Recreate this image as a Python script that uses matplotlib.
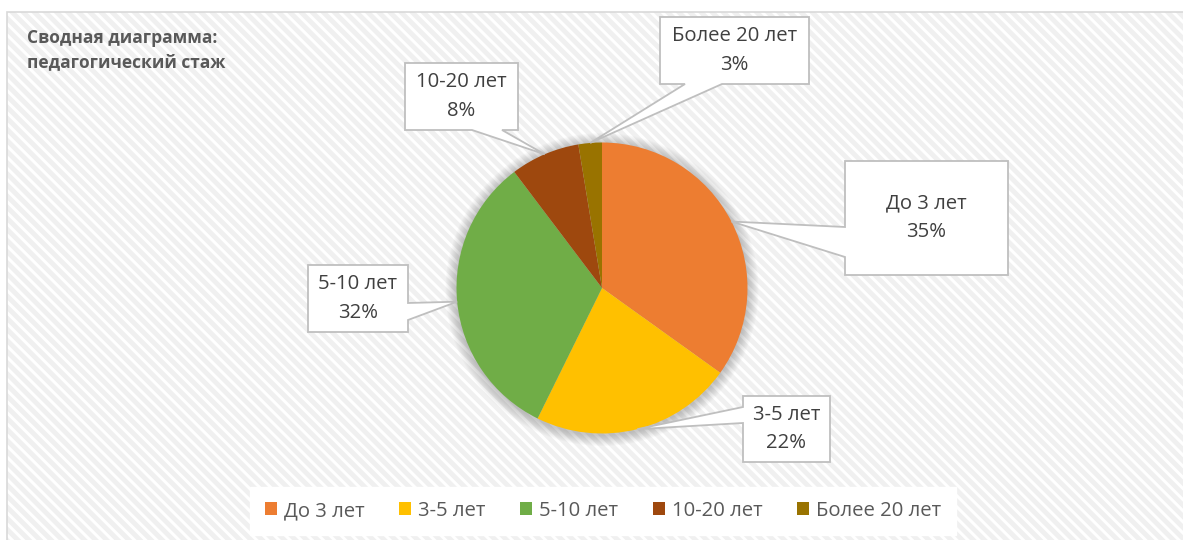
import numpy as np
import matplotlib.pyplot as plt
from matplotlib.patches import Rectangle, Circle, Polygon

plt.rcParams['font.family'] = ['Open Sans', 'DejaVu Sans']
plt.rcParams['hatch.linewidth'] = 3.5

# данные
categories = ['До 3 лет', '3-5 лет', '5-10 лет', '10-20 лет', 'Более 20 лет']
values = [34.9, 22.4, 32.4, 7.7, 2.6]
colors = ['#ED7D31', '#FFC000', '#70AD47', '#9E480E', '#997300']

W, H = 1183, 540
def Y(y):
    return H - y

fig = plt.figure(figsize=(W / 100, H / 100), dpi=100)
ax = fig.add_axes([0, 0, 1, 1])
ax.set_xlim(0, W)
ax.set_ylim(0, H)
ax.set_aspect('equal')
ax.axis('off')

# фон области диаграммы
ax.add_patch(Rectangle((7, -20), 1300, Y(12) + 20, facecolor='white',
                       edgecolor='#f0f0f0', hatch='\\\\\\', lw=0, zorder=0))
ax.add_patch(Rectangle((7, -20), 1300, Y(12) + 20, facecolor='none',
                       edgecolor='#d9d9d9', lw=1.2, zorder=0.5))

cx, cy, r = 602, Y(288), 145.5

# мягкая тень вокруг круга
for k in range(1, 12):
    ax.add_patch(Circle((cx, cy - 1.5), r + k, facecolor='black',
                        alpha=0.02, lw=0, zorder=1))

wedges, _ = ax.pie(values, colors=colors, startangle=90, counterclock=False,
                   center=(cx, cy), radius=r, frame=True,
                   wedgeprops=dict(linewidth=0))
for w in wedges:
    w.set_zorder(2)
ax.set_xlim(0, W)
ax.set_ylim(0, H)
ax.axis('off')

# выноски: рамка (x0, y0, x1, y1), сторона, основание указателя
boxes = [
    ((845, 161, 1008, 275), 'left', 227, 257),
    ((743, 396, 830, 462), 'left', 407, 423),
    ((308, 265, 408, 332), 'right', 303, 320),
    ((405, 63, 518, 130), 'bottom', 472, 502),
    ((660, 17, 809, 84), 'bottom', 685, 722),
]

for w, cat, val, (box, side, a, b) in zip(wedges, categories, values, boxes):
    th = np.deg2rad((w.theta1 + w.theta2) / 2)
    tip = (cx + r * np.cos(th), cy + r * np.sin(th))
    x0, y0, x1, y1 = box
    top, bot = Y(y0), Y(y1)
    pts = [(x0, top), (x1, top)]
    if side == 'right':
        pts += [(x1, Y(a)), tip, (x1, Y(b))]
    pts += [(x1, bot)]
    if side == 'bottom':
        pts += [(b, bot), tip, (a, bot)]
    pts += [(x0, bot)]
    if side == 'left':
        pts += [(x0, Y(b)), tip, (x0, Y(a))]
    ax.add_patch(Polygon(pts, closed=True, facecolor='white',
                         edgecolor='#bfbfbf', lw=1.3, zorder=3))
    ax.text((x0 + x1) / 2, (top + bot) / 2, f'{cat}\n{round(val)}%',
            ha='center', va='center', fontsize=14.6, color='#404040',
            linespacing=1.55, zorder=4)

# заголовок
ax.text(27, Y(29), 'Сводная диаграмма:\nпедагогический стаж', ha='left',
        va='top', fontsize=12.5, fontweight='bold', color='#595959',
        linespacing=1.45, zorder=4)

leg = ax.legend(wedges, categories, loc='center', ncol=5,
                bbox_to_anchor=(603 / W, Y(511) / H), bbox_transform=fig.transFigure,
                frameon=True, fancybox=False, framealpha=1, edgecolor='white',
                facecolor='white', fontsize=14.6, handlelength=0.6, handleheight=0.6,
                handletextpad=0.35, columnspacing=1.7, borderpad=0.7)
for t in leg.get_texts():
    t.set_color('#595959')
leg.set_zorder(5)

fig.savefig('out.png', dpi=100)
